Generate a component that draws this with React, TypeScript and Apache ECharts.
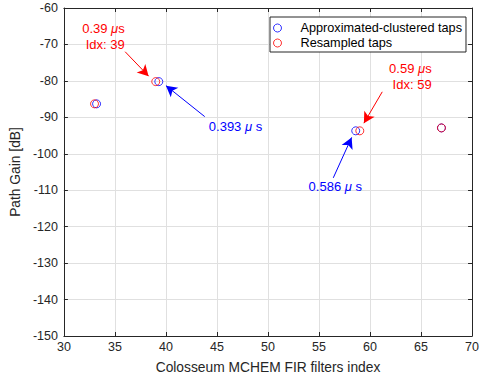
import React, { useEffect, useRef } from "react";
import * as echarts from "echarts";

const xTicks = [30, 35, 40, 45, 50, 55, 60, 65, 70];
const yTicks = [-150, -140, -130, -120, -110, -100, -90, -80, -70, -60];

const blueName = "Approximated-clustered taps";
const redName = "Resampled taps";
const blueData: [number, number][] = [
  [33.2, -86.3],
  [39.3, -80.2],
  [58.6, -93.7],
  [67.0, -92.9],
];
const redData: [number, number][] = [
  [33.0, -86.3],
  [39.0, -80.2],
  [59.0, -93.7],
  [67.0, -92.9],
];

// arrows: [tail, head] in data coords
const redArrows: [number, number][][] = [
  [[36.0, -72.0], [38.3, -78.7]],
  [[61.2, -83.0], [59.4, -91.6]],
];
const blueArrows: [number, number][][] = [
  [[43.8, -89.8], [40.0, -81.3]],
  [[56.4, -106.6], [58.2, -95.5]],
];

// annotation labels: text, anchor (data coords), align, color
const labels = [
  { text: "0.39 {i|μ}s\nIdx: 39", at: [35.96, -67.9], align: "right", color: "#ff0000" },
  { text: "0.59 {i|μ}s\nIdx: 59", at: [66.04, -78.7], align: "right", color: "#ff0000" },
  { text: "0.393 {i|μ} s", at: [44.2, -92.4], align: "left", color: "#0000ff" },
  { text: "0.586 {i|μ} s", at: [53.98, -109.1], align: "left", color: "#0000ff" },
];

const FONT = "'Liberation Sans', Arial, Helvetica, sans-serif";
const AX = "#262626";

export default function App() {
  const ref = useRef<HTMLDivElement>(null);
  useEffect(() => {
    if (!ref.current) return;
    const chart = echarts.init(ref.current, undefined, { renderer: "svg" });
    const axisCommon = {
      type: "value" as const,
      axisLine: { show: true, onZero: false, lineStyle: { color: AX, width: 1 } },
      axisTick: { show: true, inside: true, length: 4, lineStyle: { color: AX } },
    };
    const mkLines = (arr: [number, number][][], color: string) => ({
      silent: true,
      symbol: ["none", "arrow"],
      symbolSize: [9, 11],
      label: { show: false },
      lineStyle: { color, width: 1, type: "solid" },
      emphasis: { disabled: true },
      animation: false,
      data: arr.map(([a, b]) => [{ coord: a }, { coord: b }]),
    });
    const option: any = {
      animation: false,
      backgroundColor: "#ffffff",
      textStyle: { fontFamily: FONT },
      grid: { left: 60, right: 8, top: 8, bottom: 46, containLabel: false },
      xAxis: [
        {
          ...axisCommon,
          position: "bottom",
          min: 30,
          max: 70,
          interval: 5,
          name: "Colosseum MCHEM FIR filters index",
          nameLocation: "middle",
          nameGap: 24,
          nameTextStyle: { color: AX, fontSize: 13.8, fontFamily: FONT },
          axisLabel: { color: AX, fontSize: 12.5, margin: 4, fontFamily: FONT },
          splitLine: { show: true, lineStyle: { color: "#e0e0e0", width: 1 } },
        },
        {
          ...axisCommon,
          position: "top",
          min: 30,
          max: 70,
          interval: 5,
          axisLabel: { show: false },
          splitLine: { show: false },
        },
      ],
      yAxis: [
        {
          ...axisCommon,
          position: "left",
          min: -150,
          max: -60,
          interval: 10,
          name: "Path Gain [dB]",
          nameLocation: "middle",
          nameGap: 37,
          nameTextStyle: { color: AX, fontSize: 13.8, fontFamily: FONT },
          axisLabel: { color: AX, fontSize: 12.5, margin: 6, fontFamily: FONT },
          splitLine: { show: true, lineStyle: { color: "#e0e0e0", width: 1 } },
        },
        {
          ...axisCommon,
          position: "right",
          min: -150,
          max: -60,
          interval: 10,
          axisLabel: { show: false },
          splitLine: { show: false },
        },
      ],
      legend: {
        orient: "vertical",
        left: 270,
        top: 17,
        width: 194,
        padding: [4, 4, 2, 3],
        itemGap: 1,
        itemWidth: 36,
        itemHeight: 8,
        backgroundColor: "#ffffff",
        borderColor: AX,
        borderWidth: 1,
        borderRadius: 0,
        textStyle: { color: "#000000", fontSize: 12.7, lineHeight: 14, fontFamily: FONT },
        data: [
          {
            name: blueName,
            icon: "circle",
            itemStyle: { color: "rgba(0,0,0,0)", borderColor: "#0000ff", borderWidth: 1 },
          },
          {
            name: redName,
            icon: "circle",
            itemStyle: { color: "rgba(0,0,0,0)", borderColor: "#ff0000", borderWidth: 1 },
          },
        ],
      },
      series: [
        {
          name: blueName,
          type: "scatter",
          symbol: "circle",
          symbolSize: 8,
          data: blueData,
          itemStyle: { color: "rgba(0,0,0,0)", borderColor: "#0000ff", borderWidth: 1 },
          emphasis: { disabled: true },
          markLine: mkLines(blueArrows, "#0000ff"),
          z: 3,
        },
        {
          name: redName,
          type: "scatter",
          symbol: "circle",
          symbolSize: 8,
          data: redData,
          itemStyle: { color: "rgba(0,0,0,0)", borderColor: "#ff0000", borderWidth: 1 },
          emphasis: { disabled: true },
          markLine: mkLines(redArrows, "#ff0000"),
          z: 4,
        },
      ],
    };
    chart.setOption(option);
    const graphic = labels.map((l) => {
      const p = chart.convertToPixel({ gridIndex: 0 }, l.at) as number[];
      return {
        type: "text",
        x: p[0],
        y: p[1],
        silent: true,
        z: 10,
        style: {
          text: l.text,
          fill: l.color,
          fontSize: 13,
          fontFamily: FONT,
          lineHeight: 16,
          align: l.align,
          verticalAlign: "middle",
          rich: {
            i: { fontStyle: "italic", fill: l.color, fontSize: 13, fontFamily: FONT, lineHeight: 16 },
          },
        },
      };
    });
    chart.setOption({ graphic });
    return () => chart.dispose();
  }, []);
  return (
    <div
      ref={ref}
      style={{ position: "fixed", left: 0, top: 0, width: 482, height: 382 }}
    />
  );
}
